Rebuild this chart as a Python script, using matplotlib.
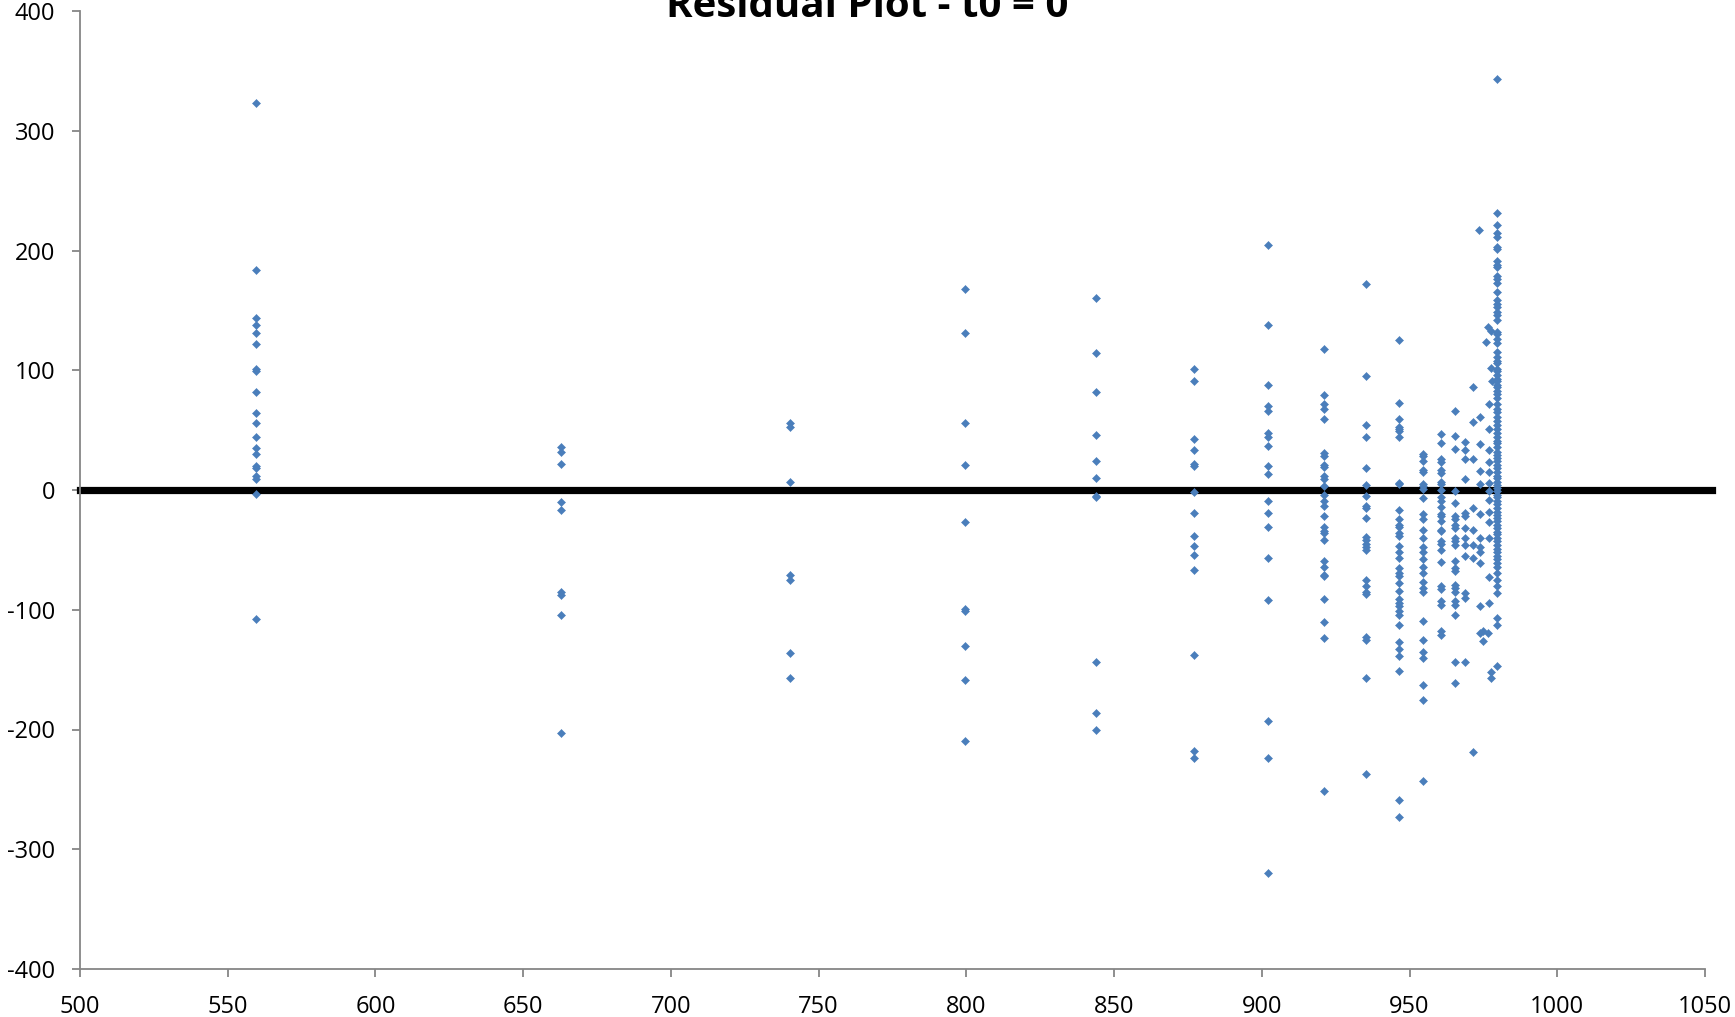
import matplotlib
matplotlib.use("Agg")
import matplotlib.pyplot as plt

# ---- data (fitted value columns and their residuals) ----
x_559 = 559.5
r_559 = [323, 184, 144, 138, 131, 122, 101, 99, 82, 64, 56, 44, 35, 30, 20, 18, 12, 9, -3, -108]
x_663 = 662.8
r_663 = [36, 32, 22, -10, -17, -85, -88, -104, -203]
x_740 = 740.4
r_740 = [56, 53, 7, -71, -75, -136, -157]
x_800 = 799.6
r_800 = [168, 131, 56, 21, -27, -99, -101, -130, -159, -210]
x_844 = 843.8
r_844 = [160, 114, 82, 46, 24, 10, -5, -6, -144, -186, -200]
x_877 = 877.2
r_877 = [101, 91, 43, 33, 22, 20, -2, -19, -38, -47, -54, -67, -138, -218, -224]
x_902 = 902.2
r_902 = [205, 138, 88, 70, 66, 48, 44, 37, 20, 13, -9, -19, -31, -57, -92, -193, -224, -320]
x_921 = 921.1
r_921 = [118, 79, 72, 68, 59, 31, 28, 21, 19, 12, 9, 3, -4, -9, -13, -22, -31, -34, -36,
         -42, -59, -64, -71, -72, -91, -110, -124, -251]
x_935 = 935.4
r_935 = [172, 95, 54, 44, 18, 4, -5, -13, -15, -23, -39, -42, -45, -48, -50, -75, -80, -85,
         -87, -123, -125, -157, -237]
x_946 = 946.4
r_946 = [125, 73, 59, 53, 51, 49, 44, 6, 5, -17, -24, -29, -31, -36, -38, -47, -52, -57,
         -65, -69, -72, -78, -84, -91, -94, -97, -101, -104, -113, -127, -133, -139, -151,
         -259, -273]
x_954 = 954.5
r_954 = [30, 28, 24, 17, 15, 5, 3, 1, -7, -20, -24, -33, -40, -48, -52, -58, -64, -69, -77,
         -82, -85, -109, -125, -135, -140, -163, -175, -243]
x_960 = 960.6
r_960 = [47, 39, 26, 23, 17, 14, 7, 5, 0, -6, -9, -14, -20, -22, -26, -33, -34, -43, -45,
         -50, -60, -80, -83, -93, -96, -118, -121]
x_965 = 965.3
r_965 = [66, 45, 34, -1, -11, -22, -24, -29, -32, -40, -43, -46, -59, -65, -68, -79, -82,
         -85, -93, -96, -104, -144, -161]

# scattered points between 966 and 979
x_scatter = [968.7, 968.7, 968.7, 968.7, 968.7, 968.7, 968.7, 968.7, 968.7, 968.7, 968.7, 968.7, 968.7,
             971.4, 971.4, 971.4, 971.4, 971.4, 971.4, 971.4, 971.4,
             973.6, 973.8, 973.8, 973.8, 973.8, 973.8, 973.8, 973.8, 973.8, 973.8, 973.8, 973.8,
             974.8, 974.8,
             976.6, 976.0, 976.8, 976.8, 976.8, 976.8, 976.8, 976.8, 976.8, 976.8, 976.8, 976.8,
             976.8, 976.8, 976.8,
             977.4, 977.7, 977.9, 976.6, 977.4, 977.4]
r_scatter = [40, 33, 26, 9, -19, -22, -32, -40, -46, -55, -86, -90, -144,
             86, 57, 26, -15, -33, -46, -57, -219,
             217, 61, 38, 16, 5, -20, -40, -48, -52, -61, -97, -119,
             -118, -126,
             136, 124, 72, 51, 33, 23, 15, 6, -1, -8, -18, -27, -40, -73, -94,
             133, 102, 91, -119, -152, -157]

# dense column near 980
x_980 = 979.5
r_980 = [343, 231, 221, 215, 211, 203, 201, 191, 188, 186, 179, 176, 173, 165, 159, 155,
         153, 149, 146, 142, 132, 130, 126, 123, 115, 111, 108, 106, 101, 99, 96, 93, 91,
         88, 86, 83, 80, 77, 72, 68, 65, 61, 58, 54, 51, 48, 44, 41, 39, 36, 32, 29, 27,
         24, 21, 18, 15, 12, 10, 7, 4, 2, -1, -4, -6, -9, -12, -15, -18, -21, -23, -26,
         -29, -32, -35, -37, -40, -43, -46, -49, -52, -55, -58, -61, -64, -69, -75, -80,
         -86, -107, -113, -147]

x_ticks = [500, 550, 600, 650, 700, 750, 800, 850, 900, 950, 1000, 1050]
y_ticks = [-400, -300, -200, -100, 0, 100, 200, 300, 400]
title = "Residual Plot - t0 = 0"

columns = [(x_559, r_559), (x_663, r_663), (x_740, r_740), (x_800, r_800), (x_844, r_844),
           (x_877, r_877), (x_902, r_902), (x_921, r_921), (x_935, r_935), (x_946, r_946),
           (x_954, r_954), (x_960, r_960), (x_965, r_965), (x_980, r_980)]

xs, ys = [], []
for cx, vals in columns:
    xs.extend([cx] * len(vals))
    ys.extend(vals)
xs.extend(x_scatter)
ys.extend(r_scatter)

plt.rcParams['font.family'] = ['Open Sans', 'DejaVu Sans']

W, H = 1735, 1017
fig = plt.figure(figsize=(W / 100, H / 100), dpi=100)
ax = fig.add_axes([80 / W, 1 - 969 / H, 1625 / W, 958 / H])

ax.axhline(0, color='black', linewidth=5.2, zorder=2, xmax=1.004, clip_on=False)
ax.plot(xs, ys, linestyle='none', marker='D', markersize=3.9, color='#4A7EBB',
        markeredgecolor='#4A7EBB', markeredgewidth=0.4, zorder=3)

ax.set_xlim(500, 1050)
ax.set_ylim(-400, 400)
ax.set_xticks(x_ticks)
ax.set_yticks(y_ticks)
ax.set_xticklabels([str(t) for t in x_ticks])
ax.set_yticklabels([str(t) for t in y_ticks])

for s in ['top', 'right']:
    ax.spines[s].set_visible(False)
for s in ['left', 'bottom']:
    ax.spines[s].set_color('#868686')
    ax.spines[s].set_linewidth(1.3)
ax.tick_params(axis='both', direction='out', length=5.8, width=1.3, color='#868686',
               labelsize=17, labelcolor='black')
ax.tick_params(axis='x', pad=13)
ax.tick_params(axis='y', pad=12)

fig.text(0.5, 1 - 16.7 / H, title, ha='center', va='baseline', fontsize=29,
         fontweight='bold', color='black')

fig.savefig('out.png', dpi=100)
